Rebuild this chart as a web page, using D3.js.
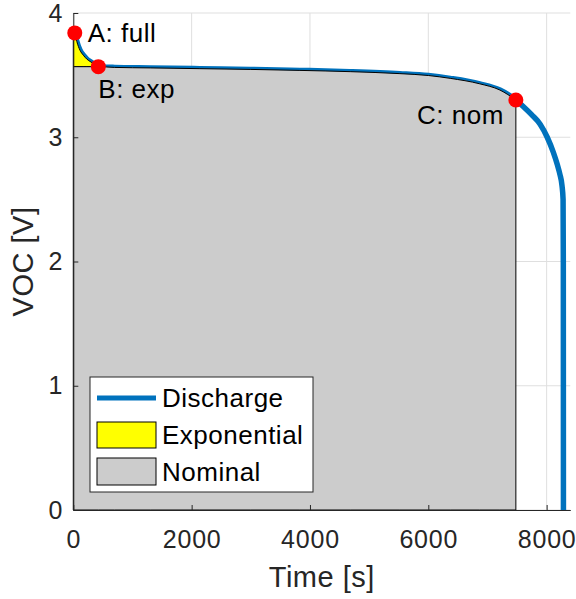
<!DOCTYPE html>
<html>
<head>
<meta charset="utf-8">
<script src="https://cdn.jsdelivr.net/npm/d3@7/dist/d3.min.js"></script>
<style>
  body { margin: 0; background: #fff; }
  svg { display: block; }
</style>
</head>
<body>
<div id="chart"></div>
<script>
// discharge curve
var timeData = [0, 25, 60, 113, 170, 226, 300, 367, 423, 700, 1300, 2140, 2990, 3830, 4680, 5520, 6000, 6370, 6870, 7210, 7480, 7600, 7750, 7890, 8010, 8112, 8180, 8225, 8260, 8278, 8282, 8284];
var vocData = [3.87, 3.84, 3.77, 3.70, 3.66, 3.63, 3.605, 3.585, 3.568, 3.562, 3.558, 3.552, 3.546, 3.538, 3.528, 3.512, 3.497, 3.474, 3.43, 3.38, 3.30, 3.25, 3.18, 3.105, 3.00, 2.88, 2.78, 2.70, 2.61, 2.50, 2.0, 0];

// marked points
var pointNames = ['A: full', 'B: exp', 'C: nom'];
var pointTime = [25, 423, 7480];
var pointVoc = [3.84, 3.568, 3.30];

var xTicks = [0, 2000, 4000, 6000, 8000];
var yTicks = [0, 1, 2, 3, 4];
var legendNames = ['Discharge', 'Exponential', 'Nominal'];

var width = 576,
    height = 599,
    font = '"Liberation Sans", Arial, Helvetica, sans-serif';

var x = d3.scaleLinear().domain([0, 8400]).range([73.3, 570.3]);
var y = d3.scaleLinear().domain([0, 4]).range([510, 13]);

var svg = d3.select('#chart')
    .append('svg')
        .attr('width', width)
        .attr('height', height);

// grid
var grid = svg.append('g').attr('stroke', '#dfdfdf').attr('stroke-width', 1);
grid.selectAll('.gx')
    .data(xTicks)
    .enter()
    .append('line')
        .attr('x1', function(d){ return x(d); })
        .attr('x2', function(d){ return x(d); })
        .attr('y1', y(0))
        .attr('y2', y(4));
grid.selectAll('.gy')
    .data(yTicks)
    .enter()
    .append('line')
        .attr('x1', x(0))
        .attr('x2', x(8400))
        .attr('y1', function(d){ return y(d); })
        .attr('y2', function(d){ return y(d); });

var curve = timeData.map(function(t, i){ return [t, vocData[i]]; });
var line = d3.line()
    .curve(d3.curveMonotoneX)
    .x(function(d){ return x(d[0]); })
    .y(function(d){ return y(d[1]); });

// discharge line (drawn under the patches, like the original)
svg.append('path')
    .datum(curve)
    .attr('d', line)
    .attr('fill', 'none')
    .attr('stroke', '#0072bd')
    .attr('stroke-width', 5.5)
    .attr('stroke-linejoin', 'round');

var tB = pointTime[1], vB = pointVoc[1], tC = pointTime[2];

// exponential zone: between the curve and the B level
var expArea = d3.area()
    .curve(d3.curveMonotoneX)
    .x(function(d){ return x(d[0]); })
    .y0(y(vB))
    .y1(function(d){ return y(d[1]); });
svg.append('path')
    .datum(curve.filter(function(d){ return d[0] <= tB; }))
    .attr('d', expArea)
    .attr('fill', '#ffff00')
    .attr('stroke', '#000')
    .attr('stroke-width', 1);

// nominal zone: under the curve from B to C, plus the block left of B
var nomArea = d3.area()
    .curve(d3.curveMonotoneX)
    .x(function(d){ return x(d[0]); })
    .y0(y(0))
    .y1(function(d){ return y(d[1]); });
svg.append('path')
    .datum([[0, vB]].concat(curve.filter(function(d){ return d[0] >= tB && d[0] <= tC; })))
    .attr('d', nomArea)
    .attr('fill', '#cccccc')
    .attr('stroke', '#000')
    .attr('stroke-width', 1);

// axes
var xAxis = svg.append('g')
    .attr('transform', 'translate(0,' + y(0) + ')')
    .call(d3.axisBottom(x).tickValues(xTicks).tickFormat(d3.format('d'))
        .tickSizeInner(-5).tickSizeOuter(0).tickPadding(20));
var yAxis = svg.append('g')
    .attr('transform', 'translate(' + x(0) + ',0)')
    .call(d3.axisLeft(y).tickValues(yTicks).tickFormat(d3.format('d'))
        .tickSizeInner(-5).tickSizeOuter(0).tickPadding(10));
[xAxis, yAxis].forEach(function(ax){
    ax.attr('font-family', font).attr('font-size', 25).attr('letter-spacing', 0.8);
    ax.selectAll('path, line').attr('stroke', '#262626');
    ax.selectAll('text').attr('fill', '#262626');
});

svg.append('text')
    .attr('x', (x(0) + x(8400)) / 2)
    .attr('y', 587)
    .attr('text-anchor', 'middle')
    .attr('font-family', font)
    .attr('font-size', 29)
    .attr('letter-spacing', 0.5)
    .attr('fill', '#262626')
    .text('Time [s]');
svg.append('text')
    .attr('transform', 'translate(33,' + (y(0) + y(4)) / 2 + ') rotate(-90)')
    .attr('text-anchor', 'middle')
    .attr('font-family', font)
    .attr('font-size', 29)
    .attr('letter-spacing', 0.5)
    .attr('fill', '#262626')
    .text('VOC [V]');

// points and their labels
var labelDx = [13, 0, -12],
    labelDy = [9, 31, 24],
    labelAnchor = ['start', 'start', 'end'];
svg.selectAll('.pt')
    .data(pointNames)
    .enter()
    .append('circle')
        .attr('cx', function(d, i){ return x(pointTime[i]); })
        .attr('cy', function(d, i){ return y(pointVoc[i]); })
        .attr('r', 7.5)
        .attr('fill', '#ff0000');
svg.selectAll('.lbl')
    .data(pointNames)
    .enter()
    .append('text')
        .attr('x', function(d, i){ return x(pointTime[i]) + labelDx[i]; })
        .attr('y', function(d, i){ return y(pointVoc[i]) + labelDy[i]; })
        .attr('text-anchor', function(d, i){ return labelAnchor[i]; })
        .attr('font-family', font)
        .attr('font-size', 26)
        .attr('letter-spacing', 0.5)
        .attr('fill', '#000')
        .text(function(d){ return d; });

// legend
var legend = svg.append('g').attr('transform', 'translate(90,377)');
legend.append('rect')
    .attr('width', 223)
    .attr('height', 115)
    .attr('fill', '#fff')
    .attr('stroke', '#262626')
    .attr('stroke-width', 1);
legend.append('line')
    .attr('x1', 7).attr('x2', 66)
    .attr('y1', 21).attr('y2', 21)
    .attr('stroke', '#0072bd')
    .attr('stroke-width', 5);
legend.append('rect')
    .attr('x', 7).attr('y', 45)
    .attr('width', 59).attr('height', 26)
    .attr('fill', '#ffff00').attr('stroke', '#000');
legend.append('rect')
    .attr('x', 7).attr('y', 81)
    .attr('width', 59).attr('height', 27)
    .attr('fill', '#cccccc').attr('stroke', '#000');
legend.selectAll('.lt')
    .data(legendNames)
    .enter()
    .append('text')
        .attr('x', 72)
        .attr('y', function(d, i){ return 30 + i * 37; })
        .attr('font-family', font)
        .attr('font-size', 26)
        .attr('letter-spacing', 0.5)
        .attr('fill', '#000')
        .text(function(d){ return d; });
</script>
</body>
</html>
